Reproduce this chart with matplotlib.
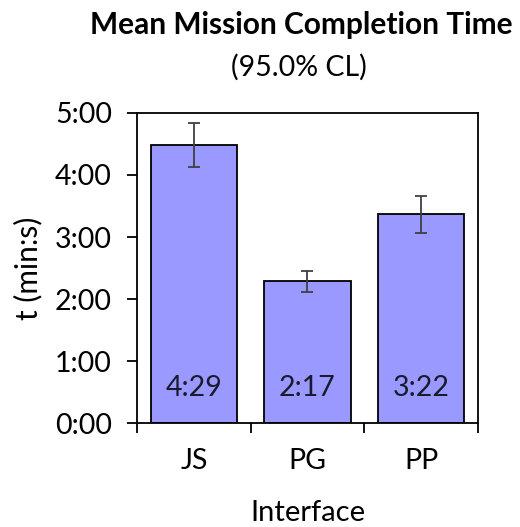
import matplotlib
matplotlib.use("Agg")
import matplotlib.pyplot as plt
from matplotlib.ticker import FuncFormatter, FixedLocator

plt.rcParams['font.family'] = ['Lato', 'DejaVu Sans']

# Mean completion time per interface, in seconds, with 95% CL half-widths
interfaces = ["JS", "PG", "PP"]
mean_seconds = [269, 137, 202]
ci_seconds = [21, 10, 18]
y_ticks = [0, 60, 120, 180, 240, 300]


def mmss(sec, _pos=None):
    sec = int(round(sec))
    return f"{sec // 60}:{sec % 60:02d}"


fig = plt.figure(figsize=(5.2, 5.27), dpi=100)
ax = fig.add_axes([0.2635, 0.1973, 0.6555, 0.5883])

x = list(range(len(interfaces)))
ax.bar(x, mean_seconds, width=0.76, color="#9999FF", edgecolor="black",
       linewidth=1.3, zorder=2)
ax.errorbar(x, mean_seconds, yerr=ci_seconds, fmt="none", ecolor="#404040",
            elinewidth=1.3, capsize=4.3, capthick=1.3, zorder=3)

for xi, v in zip(x, mean_seconds):
    ax.annotate(mmss(v), xy=(xi, 0), xytext=(0, 25.5), textcoords="offset points",
                ha="center", va="center", fontsize=20.5, color="#1a1a2e")

ax.set_xlim(-0.5, len(interfaces) - 0.5)
ax.set_ylim(0, 300)
ax.set_yticks(y_ticks)
ax.yaxis.set_major_formatter(FuncFormatter(mmss))

ax.set_xticks(x)
ax.set_xticklabels(interfaces)
ax.xaxis.set_minor_locator(FixedLocator([i - 0.5 for i in range(len(interfaces) + 1)]))
ax.tick_params(axis="x", which="major", length=0, pad=18, labelsize=20.5)
ax.tick_params(axis="x", which="minor", length=7, width=1.3, direction="out")
ax.tick_params(axis="y", length=7, width=1.3, direction="out", labelsize=20.5, pad=11)

for s in ax.spines.values():
    s.set_linewidth(1.3)
    s.set_color("black")

ax.set_xlabel("Interface", fontsize=21, labelpad=19)
ax.set_ylabel("t (min:s)", fontsize=21.5, labelpad=9)

fig.text(0.579, 0.952, "Mean Mission Completion Time", ha="center", va="center",
         fontsize=21.5, fontweight="bold")
fig.text(0.575, 0.873, "(95.0% CL)", ha="center", va="center", fontsize=20.5)

fig.savefig("out.png", dpi=100)
